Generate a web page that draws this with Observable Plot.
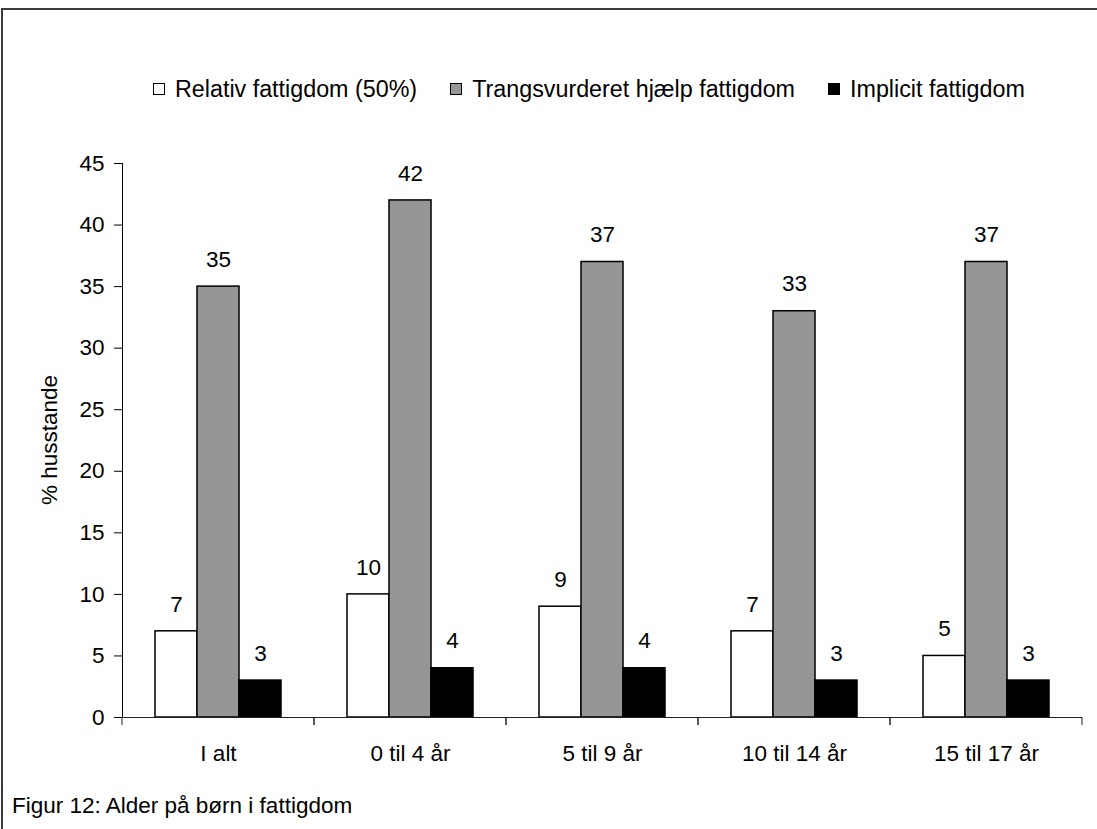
<!DOCTYPE html>
<html>
<head>
<meta charset="utf-8">
<script src="https://cdn.jsdelivr.net/npm/d3@7"></script>
<script src="https://cdn.jsdelivr.net/npm/@observablehq/plot@0.6"></script>
<style>
  html, body { margin: 0; padding: 0; background: white; overflow: hidden; }
  body { width: 1097px; height: 829px; position: relative; font-family: "Liberation Sans", Arial, sans-serif; color: black; }
  #frame { position: absolute; left: 1px; top: 8px; width: 1300px; height: 1000px; border: 2px solid #3a3a3a; box-sizing: border-box; }
  #chart { position: absolute; left: 0; top: 0; }
  #legend { position: absolute; left: 153px; top: 76px; display: flex; align-items: center; font-size: 23.3px; line-height: 1.15; z-index: 2; white-space: nowrap; }
  #legend .item { display: flex; align-items: center; margin-right: 33px; }
  #legend .sw { width: 12px; height: 12px; border: 1px solid black; box-sizing: border-box; margin-right: 10px; }
  #ylabel { position: absolute; left: 50px; top: 440px; transform: translate(-50%, -50%) rotate(-90deg); font-size: 22.5px; line-height: 1.15; white-space: nowrap; z-index: 2; }
  #caption { position: absolute; left: 12px; top: 793px; font-size: 22.5px; line-height: 1.15; white-space: nowrap; z-index: 2; }
</style>
</head>
<body>
<div id="frame"></div>
<div id="chart"></div>
<div id="legend"></div>
<div id="ylabel"></div>
<div id="caption"></div>
<script>
const categories = ["I alt", "0 til 4 år", "5 til 9 år", "10 til 14 år", "15 til 17 år"];
const series = ["Relativ fattigdom (50%)", "Trangsvurderet hjælp fattigdom", "Implicit fattigdom"];
const relativ = [7, 10, 9, 7, 5];
const trangs = [35, 42, 37, 33, 37];
const implicit = [3, 4, 4, 3, 3];
const yTicks = [0, 5, 10, 15, 20, 25, 30, 35, 40, 45];
const colors = ["white", "#969696", "black"];
const yLabel = "% husstande";
const caption = "Figur 12: Alder på børn i fattigdom";

const seriesValues = [relativ, trangs, implicit];
const data = [];
categories.forEach((c, i) => {
  series.forEach((s, j) => data.push({cat: c, series: s, value: seriesValues[j][i]}));
});

function boundaryTicks(index, scales) {
  const [r0, r1] = scales.x.range();
  const y0 = scales.y(0);
  const g = d3.create("svg:g").attr("stroke", "#222").attr("stroke-width", 1);
  for (const x of [r0, r1]) {
    g.append("line").attr("x1", x).attr("x2", x).attr("y1", y0).attr("y2", y0 + 8);
  }
  return g.node();
}

const plot = Plot.plot({
  width: 1097,
  height: 790,
  marginTop: 163,
  marginBottom: 73,
  marginLeft: 121,
  marginRight: 15,
  style: {fontFamily: "'Liberation Sans', Arial, sans-serif", fontSize: "22.5px", background: "transparent", color: "black"},
  fx: {domain: categories, padding: 0, axis: "bottom", tickSize: 0, tickPadding: 28, label: null},
  x: {domain: series, paddingInner: 0, paddingOuter: 0.75, axis: null},
  y: {domain: [0, 45], ticks: yTicks, tickSize: 8, tickPadding: 10, line: true, label: null},
  color: {domain: series, range: colors},
  marks: [
    Plot.barY(data, {fx: "cat", x: "series", y: "value", fill: "series", stroke: "black", strokeWidth: 1.5, inset: 0}),
    Plot.ruleY([0], {stroke: "#222", strokeWidth: 1}),
    boundaryTicks,
    Plot.text(data, {fx: "cat", x: "series", y: "value", text: d => String(d.value), dy: -27, fill: "black"})
  ]
});
document.getElementById("chart").appendChild(plot);

const legend = document.getElementById("legend");
series.forEach((s, j) => {
  const item = document.createElement("div");
  item.className = "item";
  const sw = document.createElement("div");
  sw.className = "sw";
  sw.style.background = colors[j];
  const label = document.createElement("span");
  label.textContent = s;
  item.appendChild(sw);
  item.appendChild(label);
  legend.appendChild(item);
});
document.getElementById("ylabel").textContent = yLabel;
document.getElementById("caption").textContent = caption;
</script>
</body>
</html>
